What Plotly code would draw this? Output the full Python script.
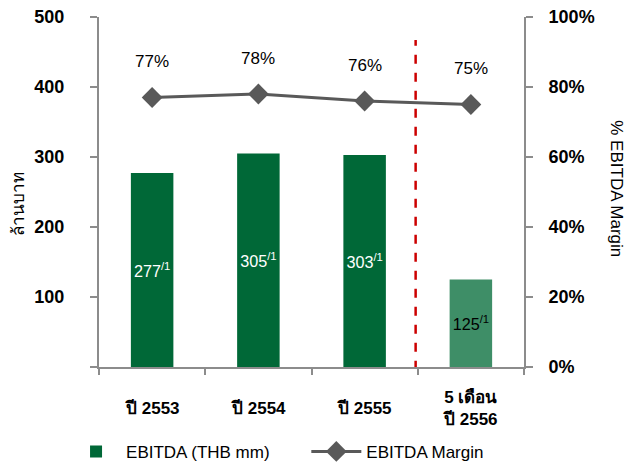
import plotly.graph_objects as go

categories = ["ปี 2553", "ปี 2554", "ปี 2555", "5 เดือน<br>ปี 2556"]
ebitda = [277, 305, 303, 125]
margin = [77, 78, 76, 75]
bar_colors = ["#006837", "#006837", "#006837", "#3E8E67"]
bar_text_colors = ["white", "white", "white", "black"]
left_ticks = [0, 100, 200, 300, 400, 500]
left_ticktext = ["", "100", "200", "300", "400", "500"]
right_ticks = [0, 20, 40, 60, 80, 100]
right_ticktext = ["0%", "20%", "40%", "60%", "80%", "100%"]

FONT = "Liberation Sans, Arial, sans-serif"

fig = go.Figure()
fig.add_trace(go.Bar(
    x=categories, y=ebitda, name="EBITDA (THB mm)", legend="legend",
    marker=dict(color=bar_colors, line=dict(width=0)),
    width=0.4,
    text=[f"{v}<sup>/1</sup>" for v in ebitda],
    textposition="inside", insidetextanchor="middle",
    textfont=dict(family=FONT, size=18, color=bar_text_colors),
    textangle=0,
))
fig.add_trace(go.Scatter(
    x=categories, y=margin, name="EBITDA Margin", yaxis="y2", legend="legend2",
    mode="lines+markers",
    line=dict(color="#595959", width=3),
    marker=dict(symbol="diamond", size=16, color="#595959"),
))

for c, m in zip(categories, margin):
    fig.add_annotation(x=c, y=m, yref="y2", text=f"{m}%", showarrow=False,
                       yshift=36, font=dict(family=FONT, size=17, color="black"))

# category labels (vertically centred like the reference)
for c in categories:
    fig.add_annotation(x=c, xref="x", yref="paper", y=-0.117, text=f"<b>{c}</b>",
                       showarrow=False, xanchor="center", yanchor="middle",
                       font=dict(family=FONT, size=17, color="black"))

fig.add_shape(type="line", xref="x", yref="y", x0=2.48, x1=2.48, y0=-4, y1=467,
              line=dict(color="#CC0000", width=2.5, dash="dash"))

fig.add_annotation(xref="paper", yref="paper", x=-0.19, y=0.467, text="ล้านบาท",
                   textangle=-90, showarrow=False, xanchor="center", yanchor="middle",
                   font=dict(family=FONT, size=17, color="black"))
fig.add_annotation(xref="paper", yref="paper", x=1.217, y=0.51, text="% EBITDA Margin",
                   textangle=90, showarrow=False, xanchor="center", yanchor="middle",
                   font=dict(family=FONT, size=17, color="black"))

axis_color = "#8C8C8C"
legend_common = dict(orientation="h", xref="container", yref="container",
                     y=0.022, xanchor="left", yanchor="middle",
                     font=dict(family=FONT, size=17, color="black"), itemwidth=50)
fig.update_layout(
    width=629, height=462,
    margin=dict(l=99, r=105, t=17, b=95),
    plot_bgcolor="white", paper_bgcolor="white",
    font=dict(family=FONT, color="black"),
    bargap=0.6,
    showlegend=True,
    legend=dict(x=0.105, **legend_common),
    legend2=dict(x=0.487, **legend_common),
    xaxis=dict(type="category", showline=True, linecolor=axis_color, linewidth=2,
               ticks="outside", tickson="boundaries", ticklen=6, tickcolor=axis_color,
               tickwidth=2, showgrid=False, showticklabels=False, automargin=False),
    yaxis=dict(range=[0, 500], tickvals=left_ticks, ticktext=left_ticktext,
               showline=True, linecolor=axis_color, linewidth=2, ticks="outside",
               ticklen=7, tickcolor=axis_color, tickwidth=2, showgrid=False,
               zeroline=False, ticklabelstandoff=22, automargin=False,
               tickfont=dict(family=FONT, size=18, color="black", weight="bold")),
    yaxis2=dict(range=[0, 100], tickvals=right_ticks, ticktext=right_ticktext,
                overlaying="y", side="right",
                showline=True, linecolor=axis_color, linewidth=2, ticks="outside",
                ticklen=7, tickcolor=axis_color, tickwidth=2, showgrid=False,
                zeroline=False, ticklabelstandoff=12, automargin=False,
                tickfont=dict(family=FONT, size=18, color="black", weight="bold")),
)

fig.write_html("out.html")
